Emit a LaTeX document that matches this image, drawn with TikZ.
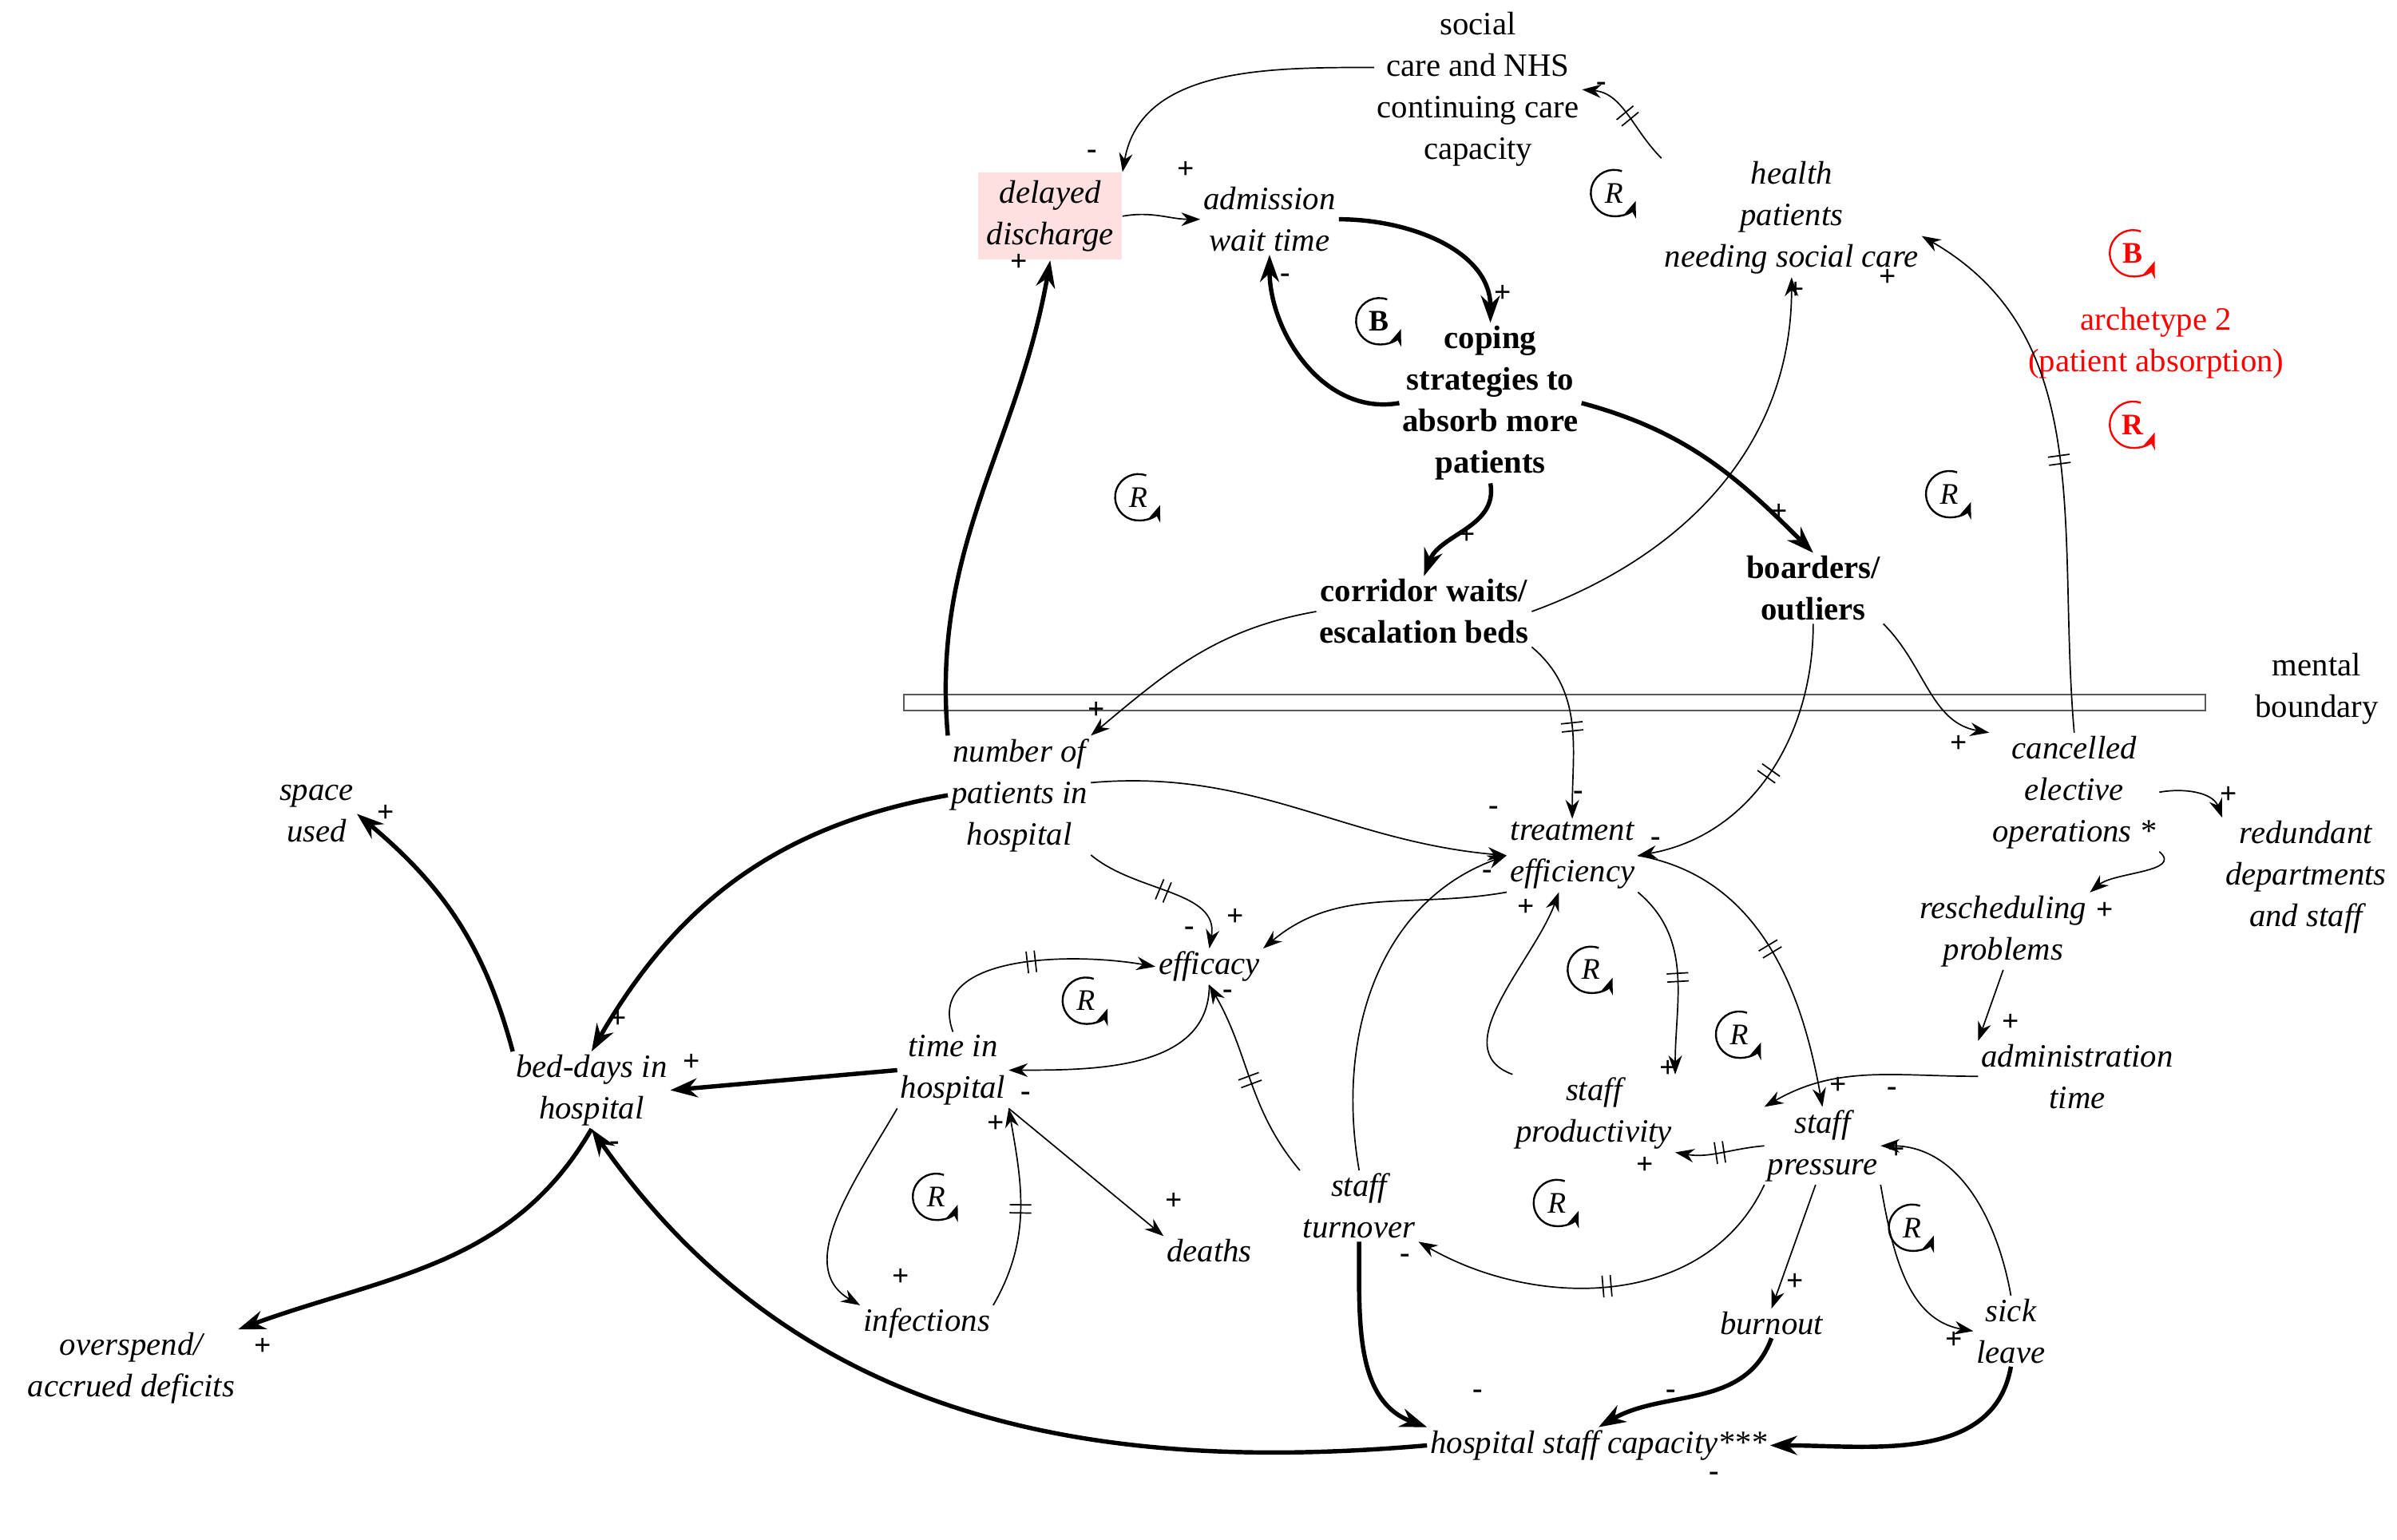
\documentclass[tikz,border=0pt]{standalone}
\usepackage{fontspec}
\setmainfont{Liberation Serif}
\usetikzlibrary{arrows.meta,decorations.markings,calc}
\newcommand\sg[3]{\node[sgn] at (#1,#2) {#3};}
\newcommand\lp[4]{\draw[#4,line width=0.7pt,-{Stealth[length=6pt]}] (#1,#2) ++(70:15) arc (70:340:15); \node[#4,font=\fontsize{11}{12}\selectfont\itshape] at (#1,#2){#3};}
\begin{document}
\begin{tikzpicture}[x=0.02cm,y=0.02cm,
 v/.style={align=center,inner sep=1pt,font=\fontsize{12}{15.3}\selectfont\itshape},
 bv/.style={align=center,inner sep=1pt,font=\fontsize{12}{15.3}\selectfont\bfseries},
 sgn/.style={inner sep=0pt,font=\fontsize{11}{11}\selectfont\bfseries},
 e/.style={-{Stealth[length=7pt,width=5pt]},line width=0.5pt},
 b/.style={-{Stealth[length=10pt,width=7pt]},line width=1.6pt},
 dl/.style={postaction={decorate},decoration={markings,mark=at position 0.5 with {\draw[-,line width=0.5pt] (-1.5pt,-4pt)--(-1.5pt,4pt) (1.5pt,-4pt)--(1.5pt,4pt);}}}]
\useasboundingbox (0,0) rectangle (1552,-997);
\draw[gray!70!black,line width=0.6pt] (585,-450) rectangle (1428,-460);
\node[v,font=\fontsize{12}{15.3}\selectfont] (mb) at (1500,-446) {mental\\boundary};
\node[v,font=\fontsize{12}{15.3}\selectfont] (soc) at (957,-58) {social\\care and NHS\\continuing care\\capacity};
\node[v,fill=red!12,inner sep=3pt] (dd) at (680,-140) {delayed\\discharge};
\node[v] (aw) at (822,-142) {admission\\wait time};
\node[v] (hp) at (1160,-141) {health\\patients\\needing social care};
\node[bv] (cs) at (965,-261) {coping\\strategies to\\absorb more\\patients};
\node[bv] (cw) at (922,-396) {corridor waits/\\escalation beds};
\node[bv] (bo) at (1174,-381) {boarders/\\outliers};
\node[align=center,text=red,font=\fontsize{12}{15.3}\selectfont] (ar) at (1396,-222) {archetype 2\\(patient absorption)};
\node[v] (np) at (660,-515) {number of\\patients in\\hospital};
\node[v] (su) at (205,-527) {space\\used};
\node[v] (ce) at (1343,-513) {cancelled\\elective\\operations *};
\node[v] (rd) at (1493,-568) {redundant\\departments\\and staff};
\node[v] (te) at (1018,-554) {treatment\\efficiency};
\node[v] (ef) at (783,-626) {efficacy};
\node[v] (rp) at (1297,-603) {rescheduling\\problems};
\node[v] (bd) at (383,-706) {bed-days in\\hospital};
\node[v] (ti) at (617,-693) {time in\\hospital};
\node[v] (am) at (1345,-697) {administration\\time};
\node[v] (prod) at (1032,-721) {staff\\productivity};
\node[v] (sp) at (1180,-742) {staff\\pressure};
\node[v] (st) at (880,-781) {staff\\turnover};
\node[v] (de) at (783,-810) {deaths};
\node[v] (inf) at (600,-857) {infections};
\node[v] (bu) at (1147,-857) {burnout};
\node[v] (sl) at (1302,-862) {sick\\leave};
\node[v] (ov) at (85,-886) {overspend/\\accrued deficits};
\node[v] (hsc) at (1035,-936) {hospital staff capacity***};
% edges
\draw[e] (soc.168) to[out=180,in=80] (dd.north east); \sg{707}{-100}{-}
\draw[e] (dd.east) to[out=10,in=180] (aw.west); \sg{768}{-110}{+}
\draw[b] (aw.east) to[out=0,in=90] (cs.north); \sg{973}{-190}{+}
\draw[b] (cs.west) to[out=190,in=-90] (aw.south); \sg{832}{-180}{-}
\draw[b] (cs.south) to[out=-80,in=70] (cw.north); \sg{950}{-347}{+}
\draw[b] (cs.east) to[out=-15,in=135] (bo.north); \sg{1152}{-332}{+}
\draw[e,dl] (hp.north west) to[out=135,in=-5] (soc.east); \sg{1037}{-56}{-}
\draw[e] (cw.east) to[out=20,in=-90] (hp.south); \sg{1163}{-188}{+}
\draw[e,dl] (ce.north) to[out=95,in=-30] (hp.-8); \sg{1222}{-180}{+}
\draw[e] (cw.west) to[out=190,in=40] (np.north east); \sg{710}{-460}{+}
\draw[e,dl] (cw.south east) to[out=-40,in=90] (te.north); \sg{1022}{-515}{-}
\draw[e,dl] (bo.south) to[out=-90,in=10] (te.east); \sg{1072}{-545}{-}
\draw[e] (bo.south east) to[out=-45,in=170] (ce.north west); \sg{1268}{-482}{+}
\draw[b] (np.north west) to[out=95,in=-100] (dd.south); \sg{660}{-170}{+}
\draw[e] (np.10) to[out=5,in=175] (te.west); \sg{967}{-525}{-}
\draw[b] (np.west) to[out=190,in=60] (bd.north); \sg{400}{-660}{+}
\draw[e,dl] (np.south east) to[out=-40,in=80] (ef.north); \sg{770}{-603}{-}
\draw[e] (ce.east) to[out=10,in=110] (rd.north west); \sg{1443}{-515}{+}
\draw[e] (ce.south east) to[out=-40,in=40] (rp.north east); \sg{1363}{-590}{+}
\draw[e] (rp.south) to (am.north west); \sg{1302}{-662}{+}
\draw[e] (am.west) to[out=180,in=30] (sp.north west); \sg{1225}{-707}{-}
\draw[e] (te.south west) to[out=190,in=40] (ef.north east); \sg{800}{-594}{+}
\draw[e,dl] (te.south east) to[out=-40,in=90] (prod.north east); \sg{1080}{-692}{+}
\draw[e,dl] (te.east) to[out=-10,in=100] (sp.north); \sg{1190}{-703}{+}
\draw[e] (prod.north west) to[out=160,in=-110] (te.-110); \sg{988}{-588}{+}
\draw[e,dl] (sp.west) to[out=185,in=-10] (prod.south east); \sg{1065}{-755}{+}
\draw[e,dl] (sp.south west) to[out=-115,in=-30] (st.south east); \sg{910}{-815}{-}
\draw[e] (sp.-100) to (bu.north); \sg{1162}{-830}{+}
\draw[e] (sp.south east) to[out=-80,in=170] (sl.west); \sg{1265}{-868}{+}
\draw[e] (sl.north) to[out=100,in=0] (sp.east); \sg{1228}{-745}{+}
\draw[e] (st.north) to[out=100,in=200] (te.west); \sg{963}{-566}{-}
\draw[e,dl] (st.north west) to[out=130,in=-60] (ef.south); \sg{795}{-644}{-}
\draw[b] (st.south) to[out=-90,in=160] (hsc.north west); \sg{957}{-903}{-}
\draw[b] (bu.south) to[out=-110,in=30] (hsc.north); \sg{1082}{-903}{-}
\draw[b] (sl.south) to[out=-100,in=0] (hsc.east); \sg{1110}{-956}{-}
\draw[b] (hsc.west) to[out=185,in=-55] (bd.south); \sg{398}{-742}{-}
\draw[b] (bd.north west) to[out=105,in=-40] (su.east); \sg{250}{-527}{+}
\draw[b] (bd.south) to[out=-120,in=20] (ov.north east); \sg{170}{-872}{+}
\draw[b] (ti.west) to (bd.east); \sg{448}{-688}{+}
\draw[e,dl] (ti.north) to[out=110,in=170] (ef.west);
\draw[e] (ef.south) to[out=-90,in=0] (ti.east); \sg{664}{-710}{-}
\draw[e] (ti.south west) to[out=-120,in=150] (inf.north west); \sg{583}{-827}{+}
\draw[e,dl] (inf.north east) to[out=60,in=-80] (ti.south east); \sg{645}{-728}{+}
\draw[e] (ti.south east) to (de.north west); \sg{760}{-778}{+}
% loops
\lp{1045}{-125}{R}{black}
\lp{893}{-208}{\bfseries\upshape B}{black}
\lp{737}{-322}{R}{black}
\lp{1262}{-320}{R}{black}
\lp{1030}{-628}{R}{black}
\lp{1126}{-670}{R}{black}
\lp{703}{-648}{R}{black}
\lp{606}{-775}{R}{black}
\lp{1008}{-779}{R}{black}
\lp{1238}{-795}{R}{black}
\lp{1381}{-164}{\bfseries\upshape B}{red}
\lp{1381}{-275}{\bfseries\upshape R}{red}
\end{tikzpicture}
\end{document}
